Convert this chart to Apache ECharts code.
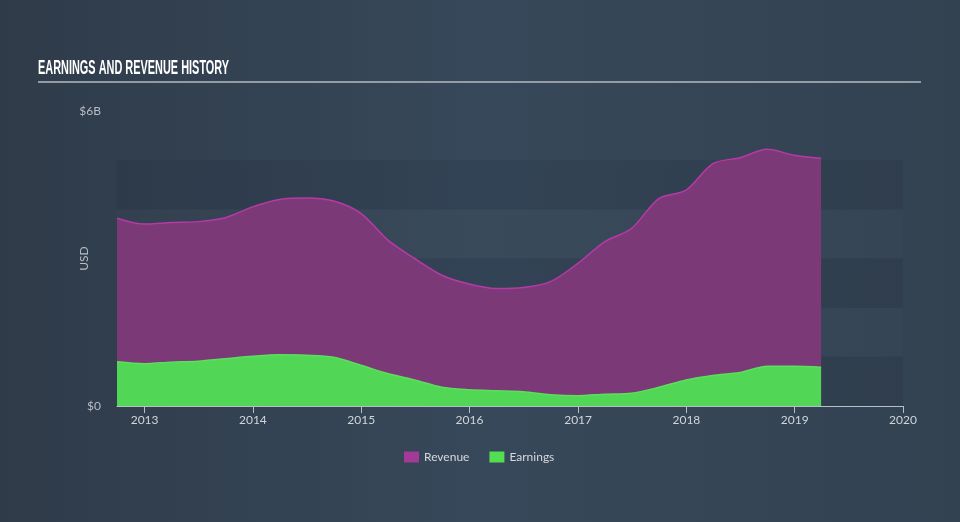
<!DOCTYPE html>
<html><head><meta charset="utf-8">
<script src="https://cdn.jsdelivr.net/npm/echarts@6/dist/echarts.min.js"></script>
<style>html,body{margin:0;padding:0;}#c{width:960px;height:522px;}</style>
</head><body><div id="c"></div>
<script>
const quarters = ['2012-09-30','2012-12-31','2013-03-31','2013-06-30','2013-09-30','2013-12-31','2014-03-31','2014-06-30','2014-09-30','2014-12-31','2015-03-31','2015-06-30','2015-09-30','2015-12-31','2016-03-31','2016-06-30','2016-09-30','2016-12-31','2017-03-31','2017-06-30','2017-09-30','2017-12-31','2018-03-31','2018-06-30','2018-09-30','2018-12-31','2019-03-31'];
const revenue = [3.82,3.70,3.73,3.75,3.83,4.05,4.20,4.23,4.17,3.92,3.38,3.00,2.66,2.48,2.39,2.41,2.53,2.90,3.34,3.61,4.22,4.39,4.93,5.05,5.22,5.10,5.04];
const earnings = [0.90,0.86,0.89,0.91,0.96,1.01,1.04,1.03,0.99,0.83,0.66,0.53,0.38,0.33,0.31,0.29,0.23,0.21,0.24,0.26,0.38,0.53,0.62,0.68,0.81,0.81,0.79];
const yTicks = {0:'$0', 6:'$6B'};
const titleText = 'EARNINGS AND REVENUE HISTORY';

const chart = echarts.init(document.getElementById('c'));
const toPairs = arr => quarters.map((q,i)=>[q, arr[i]]);
const dark = 'rgba(20,30,42,0.11)', light = 'rgba(255,255,255,0.01)';
chart.setOption({
  backgroundColor: {type:'linear', x:0, y:0, x2:1, y2:0, colorStops:[
    {offset:0, color:'#2f3b49'},{offset:0.5, color:'#37485a'},{offset:1, color:'#334251'}]},
  animation:false,
  graphic:[
    {type:'text', left:38, top:58, scaleX:0.52, style:{text:titleText, fill:'#ffffff', font:'bold 21px "Liberation Sans"'}},
    {type:'line', shape:{x1:38, y1:82, x2:921, y2:82}, style:{stroke:'#b4bac1', lineWidth:1.5}}
  ],
  grid:{left:117, right:57, top:111, bottom:116},
  legend:{bottom:54, left:399, itemWidth:15, itemHeight:11, itemGap:20, icon:'rect',
    textStyle:{color:'#d5d9dd', fontSize:12, fontFamily:'Lato'},
    data:[{name:'Revenue', itemStyle:{color:'#a23a97'}},{name:'Earnings', itemStyle:{color:'#52dd52'}}]},
  xAxis:{type:'time', min:'2012-09-30', max:'2020-01-01',
    minInterval:365*86400000, maxInterval:366*86400000,
    axisLine:{lineStyle:{color:'#b8bec6', width:1}},
    axisTick:{show:true, length:7, lineStyle:{color:'#b8bec6'}},
    axisLabel:{color:'#d0d5da', fontSize:12, fontFamily:'Lato', margin:8, formatter:'{yyyy}', showMaxLabel:true},
    splitLine:{show:false}},
  yAxis:{type:'value', min:0, max:6, interval:1, name:'USD', nameLocation:'middle', nameGap:27, nameMoveOverlap:false,
     nameTextStyle:{color:'#b8bec6', fontSize:12, fontFamily:'Lato'},
     axisLine:{show:false}, axisTick:{show:false}, splitLine:{show:false},
     axisLabel:{color:'#b8bec6', fontSize:12, fontFamily:'Lato', margin:16, formatter:v=>yTicks[v]||''},
     splitArea:{show:true, areaStyle:{color:[dark,light,dark,light,dark,'rgba(0,0,0,0)']}}},
  series:[
    {name:'Revenue', type:'line', data:toPairs(revenue), smooth:0.3, showSymbol:false,
     lineStyle:{color:'#b53aa6', width:1.5}, itemStyle:{color:'#a23a97'}, areaStyle:{color:'#7b3a77', opacity:1}, z:2},
    {name:'Earnings', type:'line', data:toPairs(earnings), smooth:0.3, showSymbol:false,
     lineStyle:{color:'#5be05b', width:1.5}, itemStyle:{color:'#52dd52'}, areaStyle:{color:'#52d655', opacity:1}, z:3}
  ]
});
</script></body></html>
